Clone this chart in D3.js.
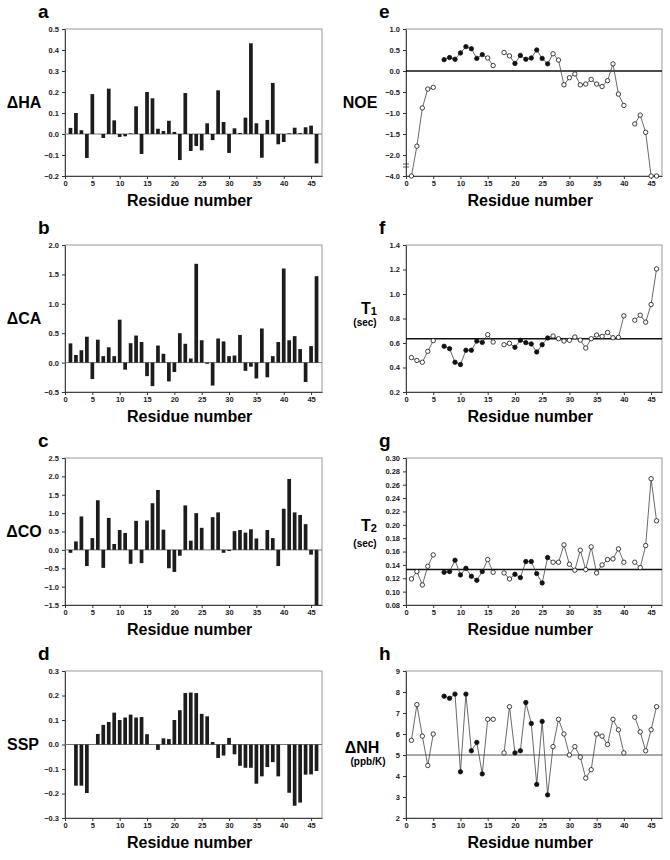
<!DOCTYPE html>
<html>
<head>
<meta charset="utf-8">
<script src="https://cdn.jsdelivr.net/npm/d3@7"></script>
<style>
  body { margin: 0; background: #fff; }
  svg { display: block; font-family: "Liberation Sans", Arial, sans-serif; }
  .tick text { font-size: 7.5px; font-weight: bold; fill: #222; }
  .tick line { stroke: #333; }
  .domain { stroke: #444; }
</style>
</head>
<body>
<div id="chart-container"></div>
<script>
// residue numbers shared by all panels
const RESIDUES = [1, 2, 3, 4, 5, 6, 7, 8, 9, 10, 11, 12, 13, 14, 15, 16, 17, 18, 19, 20, 21, 22, 23,
  24, 25, 26, 27, 28, 29, 30, 31, 32, 33, 34, 35, 36, 37, 38, 39, 40, 41, 42, 43, 44, 45, 46];
const X_TICKS = [0, 5, 10, 15, 20, 25, 30, 35, 40, 45];

// chemical shift deviations (bars)
const HA = [0.029, 0.10, 0.018, -0.114, 0.19, null, -0.019, 0.216, 0.065, -0.014, -0.011, 0.003, 0.132, -0.095,
  0.20, 0.17, 0.025, 0.014, 0.063, 0.01, -0.124, 0.195, -0.081, -0.057, -0.078, 0.051, -0.029, 0.208, 0.057,
  -0.09, 0.027, 0.005, 0.078, 0.432, 0.051, -0.113, 0.067, 0.243, -0.049, -0.038, 0.003, 0.030, 0.004, 0.032,
  0.040, -0.14];
const CA = [0.327, 0.13, 0.21, 0.44, -0.28, 0.39, 0.11, 0.26, 0.11, 0.73, -0.12, 0.33, 0.46, 0.35, -0.23, -0.40,
  0.29, 0.15, -0.32, -0.16, 0.50, 0.32, 0.07, 1.68, 0.38, -0.02, -0.39, 0.41, 0.36, 0.11, 0.12, 0.47, -0.14,
  -0.07, -0.27, 0.58, -0.25, 0.11, 0.35, 1.60, 0.38, 0.45, 0.23, -0.33, 0.28, 1.47];
const CO = [-0.08, 0.23, 0.91, -0.44, 0.32, 1.35, -0.49, 0.87, 0.16, 0.54, 0.46, -0.38, 0.79, -0.36, 0.80, 1.27,
  1.63, 0.55, -0.50, -0.60, -0.16, 1.21, 0.25, 1.0, 0.60, null, 0.89, 1.02, -0.08, -0.03, 0.51, 0.54, 0.47,
  0.56, 0.31, 0.02, 0.54, 0.32, -0.44, 1.12, 1.93, 1.02, 0.95, 0.70, -0.13, -1.5];
const SSP = [null, -0.168, -0.168, -0.198, null, 0.043, 0.08, 0.092, 0.13, 0.10, 0.11, 0.122, 0.11, 0.112, 0.042,
  null, -0.022, 0.025, 0.022, 0.10, 0.14, 0.21, 0.212, 0.21, 0.125, 0.115, 0.01, -0.055, -0.045, 0.027, -0.04,
  -0.087, -0.095, -0.095, -0.16, -0.13, -0.092, -0.072, -0.13, null, -0.197, -0.25, -0.237, -0.123, -0.122, -0.108];

// relaxation data (lines + points)
const NOE = [-4, -1.79, -0.88, -0.43, -0.39, null, 0.27, 0.32, 0.28, 0.43, 0.58, 0.53, 0.30, 0.39, 0.31, 0.13,
  null, 0.44, 0.36, 0.18, 0.37, 0.28, 0.31, 0.50, 0.30, 0.17, 0.41, 0.26, -0.33, -0.16, -0.07, -0.33, -0.31,
  -0.20, -0.31, -0.37, -0.23, 0.17, -0.55, -0.82, null, -1.26, -1.05, -1.46, -4, -4];
const T1 = [0.481, 0.457, 0.443, 0.532, 0.619, null, 0.573, 0.554, 0.443, 0.424, 0.541, 0.541, 0.616, 0.605,
  0.668, 0.608, null, 0.586, 0.597, 0.565, 0.622, 0.603, 0.592, 0.527, 0.586, 0.641, 0.657, 0.635, 0.616,
  0.622, 0.649, 0.624, 0.559, 0.635, 0.665, 0.654, 0.686, 0.643, 0.646, 0.822, null, 0.786, 0.827, 0.770,
  0.914, 1.205];
const T2 = [0.119, 0.130, 0.110, 0.138, 0.155, null, 0.129, 0.130, 0.147, 0.125, 0.135, 0.123, 0.117, 0.130,
  0.148, 0.129, null, 0.128, 0.119, 0.126, 0.121, 0.145, 0.145, 0.127, 0.113, 0.151, 0.144, 0.144, 0.170,
  0.141, 0.132, 0.162, 0.133, 0.167, 0.128, 0.140, 0.148, 0.149, 0.164, 0.144, null, 0.144, 0.136, 0.169,
  0.269, 0.206];
const NH = [5.7, 7.4, 5.9, 4.5, 6.0, null, 7.8, 7.7, 7.9, 4.2, 7.9, 5.2, 5.6, 4.1, 6.7, 6.7, null, 5.1, 7.3,
  5.1, 5.2, 7.5, 6.5, 3.6, 6.6, 3.1, 5.4, 6.7, 6.0, 5.0, 5.4, 4.9, 3.9, 4.3, 6.0, 5.9, 5.5, 6.7, 6.2, 5.1,
  null, 6.8, 6.1, 5.2, 6.2, 7.3];

// residues drawn with filled symbols
const FILLED = [7, 8, 9, 10, 11, 12, 13, 14, 20, 21, 22, 23, 24, 25, 26];

// y tick labels per panel
const TICKS_HA = [-0.2, -0.1, 0, 0.1, 0.2, 0.3, 0.4, 0.5];
const TICKS_CA = [-0.5, 0, 0.5, 1.0, 1.5, 2.0];
const TICKS_CO = [-1.5, -1.0, -0.5, 0, 0.5, 1.0, 1.5, 2.0, 2.5];
const TICKS_SSP = [-0.3, -0.2, -0.1, 0, 0.1, 0.2, 0.3];
const TICKS_NOE = [-4, -2, -1.5, -1, -0.5, 0, 0.5, 1];
const TICKS_T1 = [0.2, 0.4, 0.6, 0.8, 1.0, 1.2, 1.4];
const TICKS_T2 = [0.08, 0.10, 0.12, 0.14, 0.16, 0.18, 0.20, 0.22, 0.24, 0.26, 0.28, 0.30];
const TICKS_NH = [2, 3, 4, 5, 6, 7, 8, 9];

const W = 257, H = 147;

const svg = d3.select("#chart-container")
  .append("svg")
  .attr("width", 670)
  .attr("height", 860);

// common frame, axes and texts for one panel
function drawFrame(p) {
  const g = svg.append("g").attr("transform", `translate(${p.x},${p.y})`);
  const x = d3.scaleLinear().domain([0, 47]).range([0, p.w]);
  const y = d3.scaleLinear().domain(p.domain).range(p.range || [H, 0]);

  g.append("rect")
    .attr("width", p.w).attr("height", H)
    .attr("fill", "none").attr("stroke", "#999").attr("stroke-width", 1);

  g.append("g")
    .attr("transform", `translate(0,${H})`)
    .call(d3.axisBottom(x).tickValues(X_TICKS).tickSize(3).tickPadding(2).tickSizeOuter(0).tickFormat(d3.format("d")));

  g.append("g")
    .call(d3.axisLeft(y).tickValues(p.ticks).tickSize(3).tickPadding(3).tickSizeOuter(0).tickFormat(d3.format(p.fmt)));

  // panel letter
  svg.append("text")
    .attr("x", p.x - 27).attr("y", p.y - 11)
    .attr("font-size", 19).attr("font-weight", "bold")
    .text(p.letter);

  // x title
  svg.append("text")
    .attr("x", p.x + x(22.8)).attr("y", p.y + H + 30)
    .attr("text-anchor", "middle")
    .attr("font-size", 16).attr("font-weight", "bold")
    .text("Residue number");

  // y title
  const t = svg.append("text")
    .attr("x", p.labelX).attr("y", p.y + (p.labelDy || 79))
    .attr("text-anchor", "middle")
    .attr("font-size", 16).attr("font-weight", "bold");
  t.append("tspan").text(p.label);
  if (p.sub) t.append("tspan").attr("font-size", 11).attr("dy", 1).text(p.sub);
  if (p.unit) {
    svg.append("text")
      .attr("x", p.labelX + (p.unitDx || 0)).attr("y", p.y + p.unitDy)
      .attr("text-anchor", "middle")
      .attr("font-size", 10).attr("font-weight", "bold")
      .text(p.unit);
  }
  return { g, x, y };
}

// bar panel
function drawBars(p, values) {
  const { g, x, y } = drawFrame(p);
  const data = RESIDUES.map((r, i) => ({ r, v: values[i] })).filter(d => d.v != null);
  const bw = 3.7;

  g.append("line")
    .attr("x1", 0).attr("x2", p.w)
    .attr("y1", y(0)).attr("y2", y(0))
    .attr("stroke", "#777").attr("stroke-width", 1);

  g.append("g")
    .selectAll("rect")
    .data(data)
    .enter()
    .append("rect")
    .attr("x", d => x(d.r) - bw / 2)
    .attr("y", d => y(Math.max(0, d.v)))
    .attr("width", bw)
    .attr("height", d => Math.abs(y(d.v) - y(0)))
    .attr("fill", "#1c1c1c");
}

// line + symbol panel
function drawPoints(p, values, ref, refStyle) {
  const { g, x, y } = drawFrame(p);
  const data = RESIDUES.map((r, i) => ({ r, v: values[i] }));

  g.append("line")
    .attr("x1", 0).attr("x2", p.w)
    .attr("y1", y(ref)).attr("y2", y(ref))
    .attr("stroke", refStyle.color).attr("stroke-width", refStyle.width);

  const line = d3.line()
    .defined(d => d.v != null)
    .x(d => x(d.r))
    .y(d => y(d.v));

  g.append("path")
    .datum(data)
    .attr("d", line)
    .attr("fill", "none")
    .attr("stroke", "#444")
    .attr("stroke-width", 0.8);

  g.append("g")
    .selectAll("circle")
    .data(data.filter(d => d.v != null))
    .enter()
    .append("circle")
    .attr("cx", d => x(d.r))
    .attr("cy", d => y(d.v))
    .attr("r", 2.2)
    .attr("fill", d => FILLED.includes(d.r) ? "#111" : "#fff")
    .attr("stroke", "#111")
    .attr("stroke-width", 0.8);

  return { g, x, y };
}

const LX = 65, RX = 406;
const TOPS = [29, 245, 458, 671];

drawBars({ x: LX, y: TOPS[0], w: W, domain: [-0.2, 0.5], ticks: TICKS_HA, fmt: ".1f", letter: "a", label: "ΔHA", labelX: 24 }, HA);
drawBars({ x: LX, y: TOPS[1], w: W, domain: [-0.5, 2.0], ticks: TICKS_CA, fmt: ".1f", letter: "b", label: "ΔCA", labelX: 24 }, CA);
drawBars({ x: LX, y: TOPS[2], w: W, domain: [-1.5, 2.5], ticks: TICKS_CO, fmt: ".1f", letter: "c", label: "ΔCO", labelX: 24 }, CO);
drawBars({ x: LX, y: TOPS[3], w: W, domain: [-0.3, 0.3], ticks: TICKS_SSP, fmt: ".1f", letter: "d", label: "SSP", labelX: 23 }, SSP);

// NOE axis is broken between -2 and -4
const noe = drawPoints({ x: RX, y: TOPS[0], w: 256, domain: [-4, -2, 1], range: [H, H - H / 7, 0], ticks: TICKS_NOE, fmt: ".1f",
  letter: "e", label: "NOE", labelX: 360 }, NOE, 0, { color: "#111", width: 1.5 });
const yb = (noe.y(-2) + noe.y(-4)) / 2;
noe.g.append("g").selectAll("line")
  .data([-1.5, 1.5])
  .enter()
  .append("line")
  .attr("x1", -3).attr("x2", 3)
  .attr("y1", d => yb + d).attr("y2", d => yb + d)
  .attr("stroke", "#333").attr("stroke-width", 0.8);

drawPoints({ x: RX, y: TOPS[1], w: 256, domain: [0.2, 1.4], ticks: TICKS_T1, fmt: ".1f", letter: "f",
  label: "T", sub: "1", labelX: 369, labelDy: 69, unit: "(sec)", unitDx: -4, unitDy: 81 }, T1, 0.635, { color: "#111", width: 1.5 });
drawPoints({ x: RX, y: TOPS[2], w: 256, domain: [0.08, 0.30], ticks: TICKS_T2, fmt: ".2f", letter: "g",
  label: "T", sub: "2", labelX: 369, labelDy: 73, unit: "(sec)", unitDx: -4, unitDy: 89 }, T2, 0.133, { color: "#111", width: 1.5 });
drawPoints({ x: RX, y: TOPS[3], w: 256, domain: [2, 9], ticks: TICKS_NH, fmt: "d", letter: "h",
  label: "ΔNH", labelX: 362, labelDy: 82, unit: "(ppb/K)", unitDx: 6, unitDy: 94 }, NH, 5, { color: "#555", width: 1 });
</script>
</body>
</html>
